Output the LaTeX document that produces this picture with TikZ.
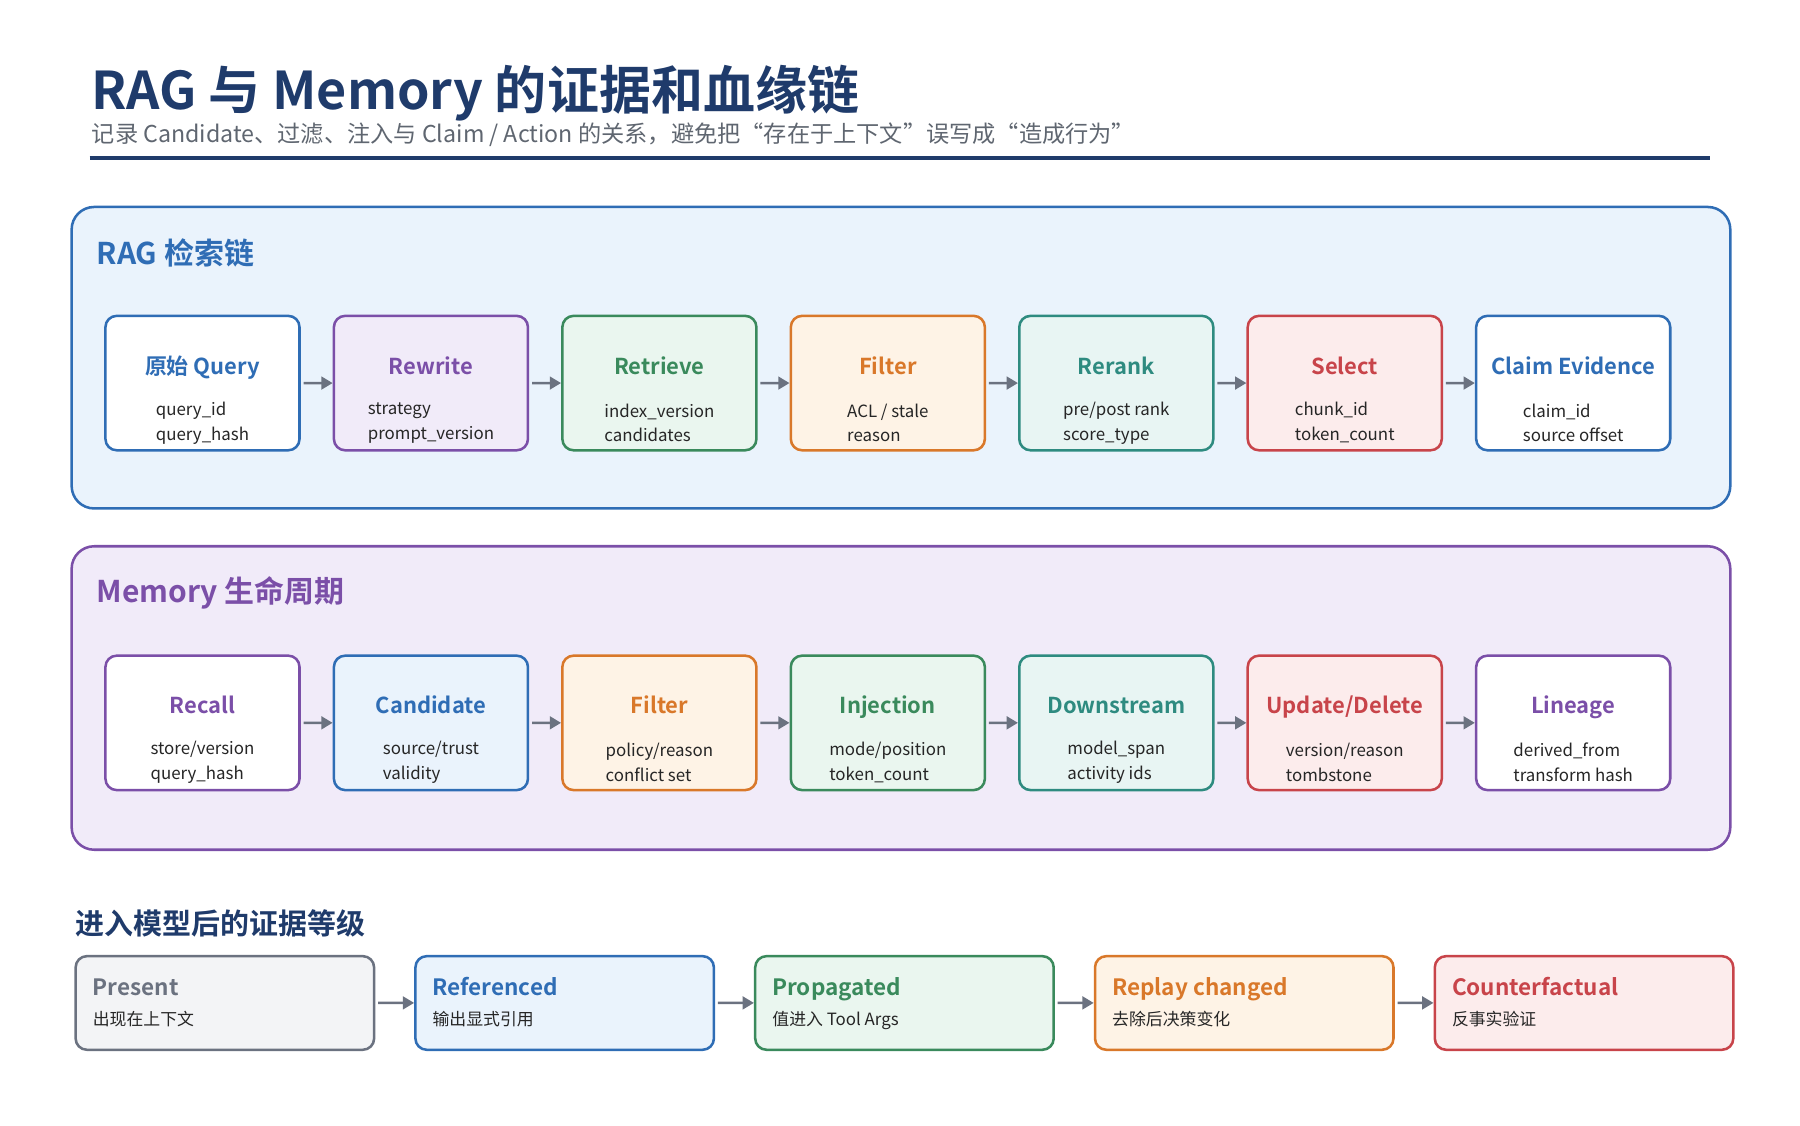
\documentclass[tikz,border=0pt]{standalone}
\usepackage{fontspec}
\setmainfont{Noto Sans CJK SC}[BoldFont={Noto Sans CJK SC Bold}]
\usetikzlibrary{arrows.meta}
\definecolor{navy}{HTML}{1F3B6B}
\definecolor{subgray}{HTML}{5F6670}
\definecolor{cblue}{HTML}{2F6DB5}
\definecolor{cpurple}{HTML}{7B4FA8}
\definecolor{cgreen}{HTML}{3A8A5C}
\definecolor{corange}{HTML}{D9782A}
\definecolor{cteal}{HTML}{2E8B80}
\definecolor{cred}{HTML}{C8444A}
\definecolor{cgray}{HTML}{6B7280}
\definecolor{fblue}{HTML}{EAF3FC}
\definecolor{fpurple}{HTML}{F1EBF9}
\definecolor{fgreen}{HTML}{EAF6EF}
\definecolor{forange}{HTML}{FEF3E6}
\definecolor{fteal}{HTML}{E8F5F3}
\definecolor{fred}{HTML}{FCECEC}
\definecolor{fgray}{HTML}{F3F4F6}
\tikzset{
  panel/.style={draw=#1, line width=1.8pt, rounded corners=16pt},
  step/.style={draw=#1, line width=1.8pt, rounded corners=8pt, minimum width=4.85cm, minimum height=3.36cm, inner sep=0pt},
  level/.style={draw=#1, line width=1.8pt, rounded corners=8pt, minimum width=7.46cm, minimum height=2.34cm, inner sep=0pt},
  head/.style={anchor=base, inner sep=0pt, text=#1, font=\bfseries\fontsize{15.6}{19}\selectfont},
  info/.style={align=left, font=\fontsize{12}{17.7}\selectfont, text=black!85},
  lvhead/.style={anchor=base west, inner sep=0pt, text=#1, font=\bfseries\fontsize{16}{19}\selectfont},
  lvinfo/.style={anchor=base west, inner sep=0pt, font=\fontsize{12}{15}\selectfont, text=black!85},
  flow/.style={-{Triangle[length=8pt,width=9pt]}, draw=cgray, line width=1.8pt, shorten <=2pt}
}
\begin{document}
\begin{tikzpicture}[x=0.025cm, y=-0.025cm]
	\useasboundingbox (0,0) rectangle (1800,1125);
	\begin{scope}[scale=0.995]
	% title
	\node [anchor=base west, inner sep=0pt, text=navy, font=\bfseries\fontsize{37}{44}\selectfont] (title) at (92,110) {RAG 与 Memory 的证据和血缘链};
	\node [anchor=base west, inner sep=0pt, text=subgray, font=\fontsize{16.5}{20}\selectfont] (subtitle) at (92,143) {记录 Candidate、过滤、注入与 Claim / Action 的关系，避免把“存在于上下文”误写成“造成行为”};
	\draw [navy, line width=3pt] (90,159) -- (1719,159);
	% panels
	\draw [panel=cblue, fill=fblue] (72,208) rectangle (1739,511);
	\draw [panel=cpurple, fill=fpurple] (72,549) rectangle (1739,854);
	\node [anchor=west, inner sep=0pt, text=cblue, font=\bfseries\fontsize{21.3}{25}\selectfont] (ragt) at (97,254) {RAG 检索链};
	\node [anchor=west, inner sep=0pt, text=cpurple, font=\bfseries\fontsize{21.3}{25}\selectfont] (memt) at (97,596) {Memory 生命周期};
	% RAG chain
	\node [step=cblue, fill=white] (rag1) at (203.5,385) {};
	\node [step=cpurple, fill=fpurple] (rag2) at (433.1,385) {};
	\node [step=cgreen, fill=fgreen] (rag3) at (662.7,385) {};
	\node [step=corange, fill=forange] (rag4) at (892.3,385) {};
	\node [step=cteal, fill=fteal] (rag5) at (1121.9,385) {};
	\node [step=cred, fill=fred] (rag6) at (1351.5,385) {};
	\node [step=cblue, fill=white] (rag7) at (1581.1,385) {};
	\node [head=cblue] at (203.5,376) {原始 Query};
	\node [head=cpurple] at (433.1,376) {Rewrite};
	\node [head=cgreen] at (662.7,376) {Retrieve};
	\node [head=corange] at (892.3,376) {Filter};
	\node [head=cteal] at (1121.9,376) {Rerank};
	\node [head=cred] at (1351.5,376) {Select};
	\node [head=cblue] at (1581.1,376) {Claim Evidence};
	\node [info] at (203.5,425) {query\_id\\query\_hash};
	\node [info] at (433.1,425) {strategy\\prompt\_version};
	\node [info] at (662.7,425) {index\_version\\candidates};
	\node [info] at (892.3,425) {ACL / stale\\reason};
	\node [info] at (1121.9,425) {pre/post rank\\score\_type};
	\node [info] at (1351.5,425) {chunk\_id\\token\_count};
	\node [info] at (1581.1,425) {claim\_id\\source offset};
	\draw [flow] (rag1) -- (rag2);
	\draw [flow] (rag2) -- (rag3);
	\draw [flow] (rag3) -- (rag4);
	\draw [flow] (rag4) -- (rag5);
	\draw [flow] (rag5) -- (rag6);
	\draw [flow] (rag6) -- (rag7);
	% Memory chain
	\node [step=cpurple, fill=white] (mem1) at (203.5,726.5) {};
	\node [step=cblue, fill=fblue] (mem2) at (433.1,726.5) {};
	\node [step=corange, fill=forange] (mem3) at (662.7,726.5) {};
	\node [step=cgreen, fill=fgreen] (mem4) at (892.3,726.5) {};
	\node [step=cteal, fill=fteal] (mem5) at (1121.9,726.5) {};
	\node [step=cred, fill=fred] (mem6) at (1351.5,726.5) {};
	\node [step=cpurple, fill=white] (mem7) at (1581.1,726.5) {};
	\node [head=cpurple] at (203.5,717.5) {Recall};
	\node [head=cblue] at (433.1,717.5) {Candidate};
	\node [head=corange] at (662.7,717.5) {Filter};
	\node [head=cgreen] at (892.3,717.5) {Injection};
	\node [head=cteal] at (1121.9,717.5) {Downstream};
	\node [head=cred] at (1351.5,717.5) {Update/Delete};
	\node [head=cpurple] at (1581.1,717.5) {Lineage};
	\node [info] at (203.5,766.5) {store/version\\query\_hash};
	\node [info] at (433.1,766.5) {source/trust\\validity};
	\node [info] at (662.7,766.5) {policy/reason\\conflict set};
	\node [info] at (892.3,766.5) {mode/position\\token\_count};
	\node [info] at (1121.9,766.5) {model\_span\\activity ids};
	\node [info] at (1351.5,766.5) {version/reason\\tombstone};
	\node [info] at (1581.1,766.5) {derived\_from\\transform hash};
	\draw [flow] (mem1) -- (mem2);
	\draw [flow] (mem2) -- (mem3);
	\draw [flow] (mem3) -- (mem4);
	\draw [flow] (mem4) -- (mem5);
	\draw [flow] (mem5) -- (mem6);
	\draw [flow] (mem6) -- (mem7);
	% evidence levels
	\node [anchor=west, inner sep=0pt, text=navy, font=\bfseries\fontsize{20.6}{24}\selectfont] (levt) at (76,928) {进入模型后的证据等级};
	\node [level=cgray, fill=fgray] (lv1) at (226,1008) {};
	\node [level=cblue, fill=fblue] (lv2) at (567.5,1008) {};
	\node [level=cgreen, fill=fgreen] (lv3) at (909,1008) {};
	\node [level=corange, fill=forange] (lv4) at (1250.5,1008) {};
	\node [level=cred, fill=fred] (lv5) at (1592,1008) {};
	\node [lvhead=cgray] at (93,1000) {Present};
	\node [lvhead=cblue] at (434.5,1000) {Referenced};
	\node [lvhead=cgreen] at (776,1000) {Propagated};
	\node [lvhead=corange] at (1117.5,1000) {Replay changed};
	\node [lvhead=cred] at (1459,1000) {Counterfactual};
	\node [lvinfo] at (93,1031) {出现在上下文};
	\node [lvinfo] at (434.5,1031) {输出显式引用};
	\node [lvinfo] at (776,1031) {值进入 Tool Args};
	\node [lvinfo] at (1117.5,1031) {去除后决策变化};
	\node [lvinfo] at (1459,1031) {反事实验证};
	\draw [flow] (lv1) -- (lv2);
	\draw [flow] (lv2) -- (lv3);
	\draw [flow] (lv3) -- (lv4);
	\draw [flow] (lv4) -- (lv5);
	\end{scope}
\end{tikzpicture}
\end{document}
